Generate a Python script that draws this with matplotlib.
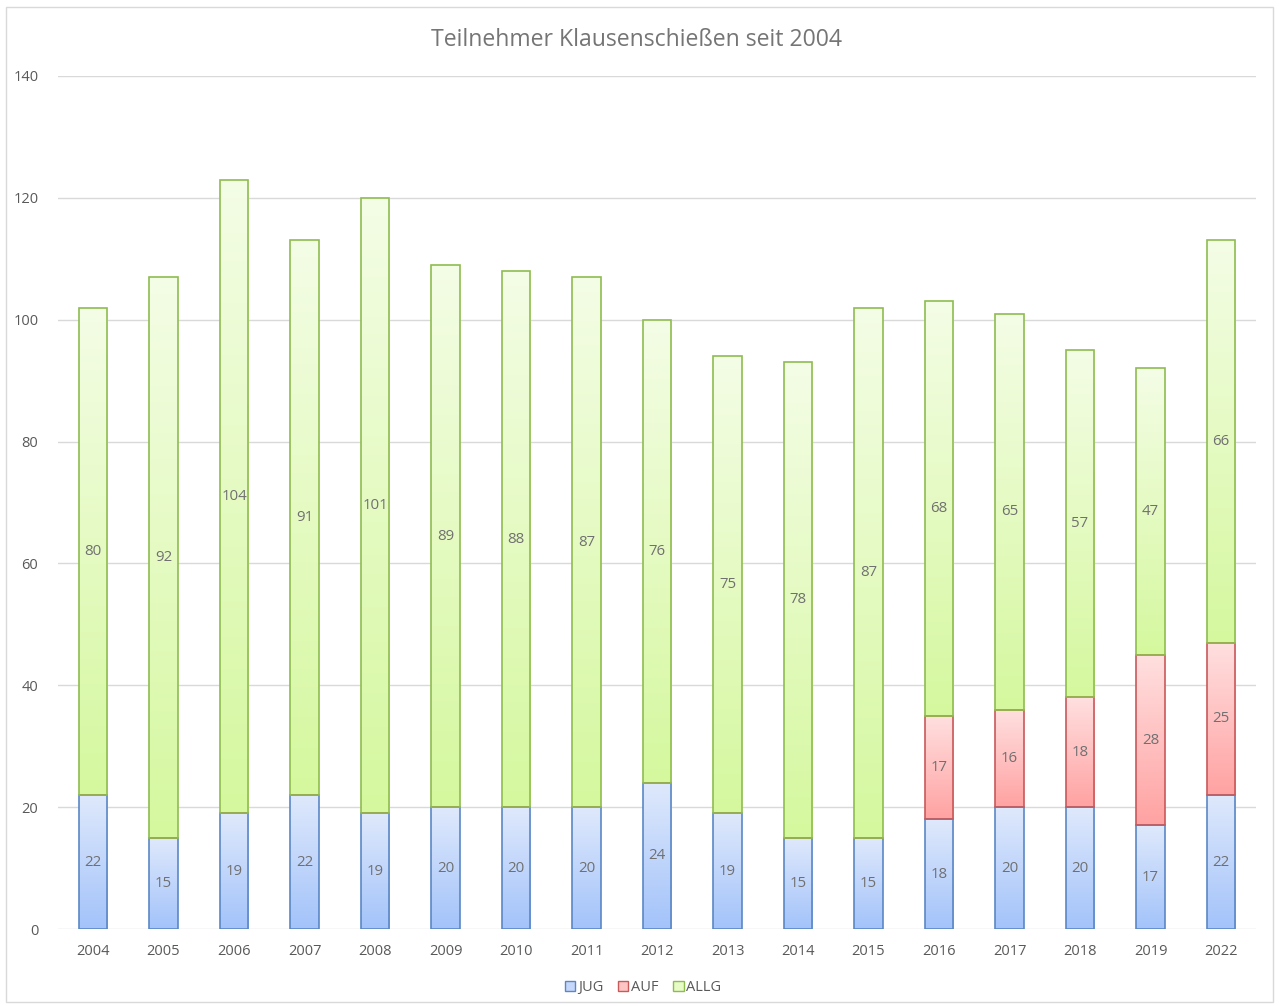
import numpy as np
import matplotlib
matplotlib.use('Agg')
import matplotlib.pyplot as plt
from matplotlib.colors import LinearSegmentedColormap
from matplotlib.patches import Rectangle, Patch

plt.rcParams['font.family'] = ['Open Sans', 'DejaVu Sans']

years = ['2004', '2005', '2006', '2007', '2008', '2009', '2010', '2011', '2012',
         '2013', '2014', '2015', '2016', '2017', '2018', '2019', '2022']
jug = [22, 15, 19, 22, 19, 20, 20, 20, 24, 19, 15, 15, 18, 20, 20, 17, 22]
auf = [0, 0, 0, 0, 0, 0, 0, 0, 0, 0, 0, 0, 17, 16, 18, 28, 25]
allg = [80, 92, 104, 91, 101, 89, 88, 87, 76, 75, 78, 87, 68, 65, 57, 47, 66]

# (top colour, bottom colour, edge colour, legend colour)
styles = {
    'JUG': ('#dfe9fc', '#a3c3fa', '#5b87c5', '#c5d8fb'),
    'AUF': ('#ffe0e0', '#ffa2a2', '#c9595a', '#ffc4c4'),
    'ALLG': ('#f4fde6', '#d5f89e', '#8fbc4f', '#e6fbc6'),
}

fig = plt.figure(figsize=(12.79, 10.06), dpi=100)
ax = fig.add_axes([0.04515, 0.0765, 0.9371, 0.848])

x = np.arange(len(years))
width = 0.41


def gradient_bars(bars, top, bottom):
    cmap = LinearSegmentedColormap.from_list('g', [bottom, top])
    grad = np.linspace(0, 1, 256).reshape(-1, 1)
    for b in bars:
        if b.get_height() <= 0:
            continue
        x0, y0 = b.get_x(), b.get_y()
        im = ax.imshow(grad, cmap=cmap, origin='lower', aspect='auto',
                       extent=[x0, x0 + b.get_width(), y0, y0 + b.get_height()],
                       zorder=2)
        im.set_clip_path(b)


bottom = np.zeros(len(years))
for name, vals in [('JUG', jug), ('AUF', auf), ('ALLG', allg)]:
    top, bot, edge, _ = styles[name]
    vals = np.array(vals)
    bars = ax.bar(x, vals, width, bottom=bottom, facecolor='none',
                  edgecolor=edge, linewidth=1.2, zorder=3)
    gradient_bars(bars, top, bot)
    for xi, v, b in zip(x, vals, bottom):
        if v > 0:
            ax.text(xi, b + v / 2, str(v), ha='center', va='center',
                    fontsize=10.8, color='#707070', zorder=4)
    bottom = bottom + vals

ax.set_xlim(-0.5, len(years) - 0.5)
ax.set_ylim(0, 140)
ax.set_yticks(range(0, 141, 20))
ax.set_xticks(x)
ax.set_xticklabels(years)
ax.grid(axis='y', color='#d9d9d9', linewidth=1)
ax.set_axisbelow(True)
for s in ax.spines.values():
    s.set_visible(False)
ax.tick_params(length=0, labelsize=10.5, colors='#595959', pad=11)
ax.tick_params(axis='y', pad=14)

fig.text(0.4976, 0.9605, 'Teilnehmer Klausenschießen seit 2004', ha='center',
         va='center', fontsize=16.6, color='#757575')

handles = [Patch(facecolor=styles[n][3], edgecolor=styles[n][2], label=n)
           for n in ['JUG', 'AUF', 'ALLG']]
fig.legend(handles=handles, loc='center', bbox_to_anchor=(0.503, 0.018), ncol=3,
           frameon=False, fontsize=10.5, handlelength=0.7, handleheight=0.7,
           handletextpad=0.2, columnspacing=1.0, labelcolor='#595959')

fig.patches.append(Rectangle((0.005, 0.004), 0.99, 0.989, transform=fig.transFigure,
                             fill=False, edgecolor='#d9d9d9', linewidth=1))

fig.savefig('out.png', dpi=100)
